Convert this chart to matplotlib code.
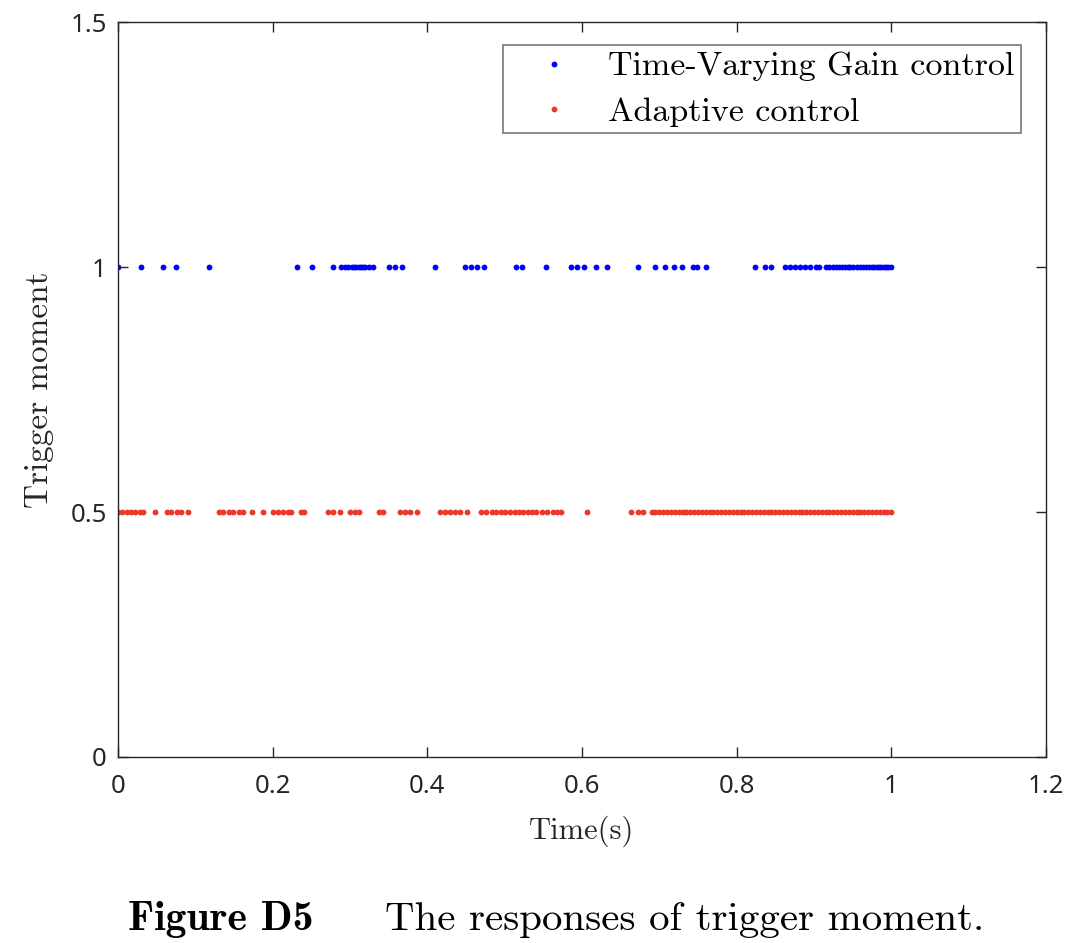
import numpy as np
import matplotlib.pyplot as plt

## DATA ##
tvg_t = [0, 0.030, 0.058, 0.075, 0.118, 0.232, 0.251, 0.278, 0.289, 0.294,
         0.298, 0.302, 0.305, 0.308, 0.311, 0.314, 0.317, 0.320, 0.324, 0.330,
         0.350, 0.358, 0.367, 0.410, 0.449, 0.456, 0.464, 0.473, 0.515, 0.523,
         0.553, 0.586, 0.593, 0.602, 0.618, 0.632, 0.672, 0.694, 0.707, 0.719,
         0.729, 0.744, 0.749, 0.760, 0.824, 0.836, 0.845, 0.863, 0.869, 0.876,
         0.882, 0.889, 0.895, 0.902, 0.906, 0.916, 0.920, 0.924, 0.928, 0.932,
         0.936, 0.940, 0.944, 0.947, 0.951, 0.955, 0.959, 0.963, 0.967, 0.971,
         0.975, 0.978, 0.981, 0.984, 0.987, 0.990, 0.993, 0.996, 1.0]
tvg_level = 1.0

adp_t = [0, 0.005, 0.011, 0.017, 0.022, 0.028, 0.032, 0.048, 0.063, 0.069,
         0.076, 0.082, 0.091, 0.130, 0.136, 0.143, 0.149, 0.156, 0.162, 0.173,
         0.188, 0.201, 0.207, 0.214, 0.220, 0.224, 0.236, 0.240, 0.272, 0.278,
         0.287, 0.300, 0.306, 0.312, 0.337, 0.343, 0.365, 0.371, 0.378, 0.386,
         0.416, 0.423, 0.429, 0.436, 0.442, 0.451, 0.470, 0.476, 0.483, 0.489,
         0.495, 0.501, 0.507, 0.513, 0.519, 0.524, 0.530, 0.535, 0.541, 0.548,
         0.555, 0.562, 0.568, 0.573, 0.606, 0.664, 0.673, 0.679,
         0.690, 0.695, 0.700, 0.705, 0.710, 0.715, 0.720, 0.725, 0.730, 0.735,
         0.740, 0.745, 0.750, 0.755, 0.760, 0.765, 0.770, 0.775, 0.780, 0.785,
         0.790, 0.795, 0.800, 0.805, 0.810, 0.815, 0.820, 0.825, 0.830, 0.835,
         0.840, 0.845, 0.850, 0.855, 0.860, 0.865, 0.870, 0.875, 0.880, 0.885,
         0.890, 0.895, 0.900, 0.905, 0.910, 0.915, 0.920, 0.925, 0.930, 0.935,
         0.940, 0.945, 0.950, 0.955, 0.960, 0.965, 0.970, 0.975, 0.980, 0.985,
         0.990, 0.995, 1.0]
adp_level = 0.5

x_ticks = [0, 0.2, 0.4, 0.6, 0.8, 1, 1.2]
x_labels = ['0', '0.2', '0.4', '0.6', '0.8', '1', '1.2']
y_ticks = [0, 0.5, 1, 1.5]
y_labels = ['0', '0.5', '1', '1.5']

## PLOT ##
axcol = '#262626'
fig = plt.figure(figsize=(10.8, 9.43), dpi=100)
ax = fig.add_axes([118/1080, 1-757/943, 928/1080, 735/943])

ax.plot(tvg_t, [tvg_level]*len(tvg_t), ls='none', marker='o', ms=4.2,
        mec='none', color=(0, 0, 1), label='Time-Varying Gain control')
ax.plot(adp_t, [adp_level]*len(adp_t), ls='none', marker='o', ms=4.2,
        mec='none', color='#e8392a', label='Adaptive control')

ax.set_xlim(0, 1.2)
ax.set_ylim(0, 1.5)
ax.set_xticks(x_ticks)
ax.set_xticklabels(x_labels, family='Noto Sans', fontsize=18.5, color=axcol)
ax.set_yticks(y_ticks)
ax.set_yticklabels(y_labels, family='Noto Sans', fontsize=18.5, color=axcol)
ax.tick_params(direction='in', top=True, right=True, length=7, width=1,
               color=axcol)
ax.tick_params(axis='x', pad=12)
ax.tick_params(axis='y', pad=8)
for s in ax.spines.values():
    s.set_color(axcol)
    s.set_linewidth(1)

ax.set_xlabel('Time(s)', family='cmr10', fontsize=22, color=axcol, labelpad=12)
ax.set_ylabel('Trigger moment', family='cmr10', fontsize=24, color=axcol, labelpad=12)

lgd = ax.legend(loc='upper right', bbox_to_anchor=(0.973, 0.969), borderaxespad=0,
                prop={'family': 'cmr10', 'size': 24.5}, frameon=True, fancybox=False,
                edgecolor='#555555', handlelength=2.6, handletextpad=0.27,
                borderpad=0.2, labelspacing=0.45, markerscale=1.0, numpoints=1)
lgd.get_frame().set_linewidth(1.2)

fig.text(128/1080, 1-930/943, 'Figure D5', family='cmb10', fontsize=30, va='baseline')
fig.text(385/1080, 1-930/943, 'The responses of trigger moment.', family='cmr10',
         fontsize=29.5, va='baseline')

plt.savefig('out.png', dpi=100)
